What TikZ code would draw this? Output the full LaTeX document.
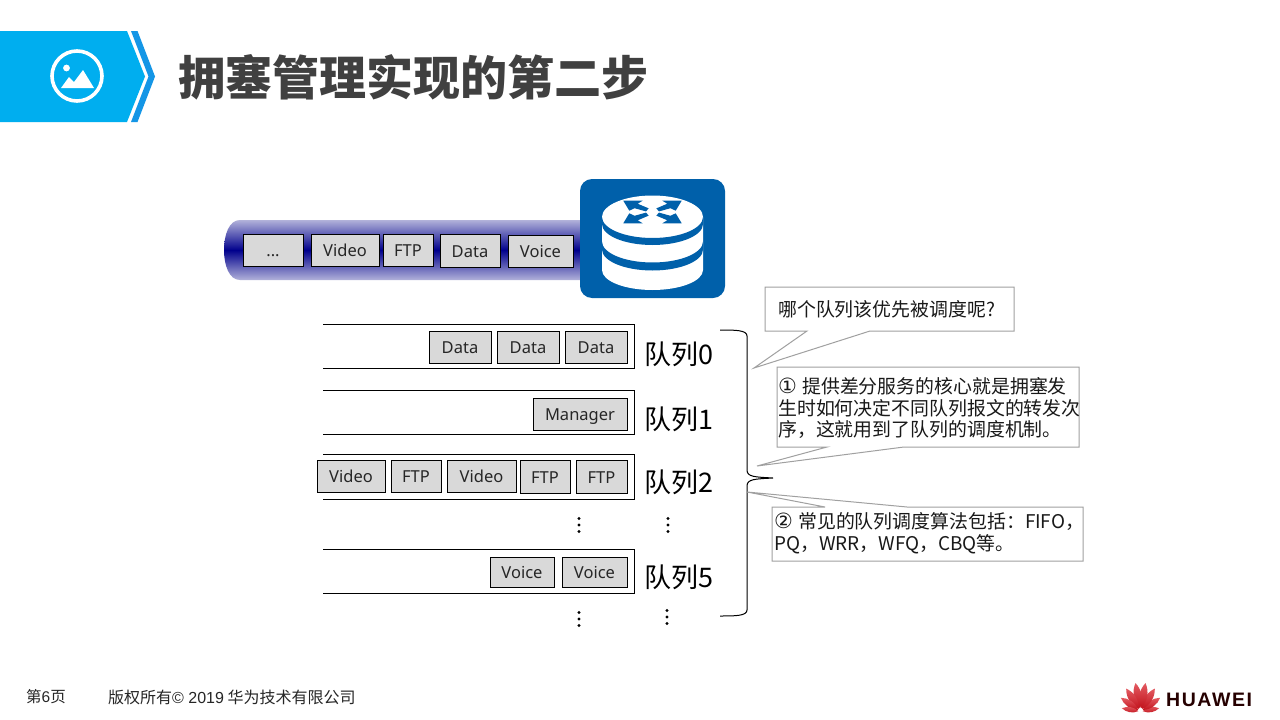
\documentclass[tikz,border=0pt]{standalone}
\usepackage{fontspec}
\setmainfont{Noto Sans}
\newfontfamily\cjk{Noto Sans CJK SC}
\newfontfamily\hw{Liberation Sans}[LetterSpace=8]
\newfontfamily\arialf{Liberation Sans}
\newfontfamily\symf{DejaVu Sans}
\newcommand{\fwcomma}{^^^^ff0c}
\newcommand{\fwcolon}{^^^^ff1a}
\definecolor{hdrblue}{RGB}{0,174,239}
\definecolor{chevblue}{RGB}{20,150,230}
\definecolor{routerblue}{RGB}{0,96,170}
\definecolor{pktgray}{RGB}{217,217,217}
\definecolor{calloutline}{RGB}{160,160,160}
\definecolor{titlegray}{RGB}{64,64,64}
\definecolor{tubedark}{RGB}{0,0,140}
\definecolor{tubelight}{RGB}{178,178,218}
\definecolor{hwred}{RGB}{215,20,30}
\tikzset{
  x=1pt,y=-1pt,
  pkt/.style={draw=black,line width=1pt,fill=pktgray,inner sep=0pt,font=\fontsize{16.5}{20}\selectfont,text=black!85,text height=15pt,text depth=2pt},
  qline/.style={draw=black,line width=1pt},
  qlabel/.style={anchor=west,inner sep=0pt,font=\fontsize{27}{30}\selectfont\cjk},
  dots/.style={fill=black,circle,inner sep=0pt,minimum size=3.2pt},
  callout/.style={draw=calloutline,line width=1pt,fill=white},
  ctext/.style={anchor=west,inner sep=0pt,text=black!90,font=\fontsize{18.9}{22}\selectfont\cjk},
  foot/.style={anchor=west,inner sep=0pt,text=black!85,font=\fontsize{16}{18}\selectfont\cjk},
  arrowpiece/.pic={\fill[routerblue] (-29.2,-11.3)--(-9.8,-11.3)--(-14.8,-8.3)--(-3.8,-3.6)--(-6.5,-0.6)--(-18,-3.8)--(-23.2,-1.3)--cycle;},
  petal/.pic={\shade[top color=hwred!70!white,bottom color=hwred!90!black] (0,-3) .. controls (-5.2,-11) and (-4.6,-20) .. (0,-27) .. controls (4.6,-20) and (5.2,-11) .. (0,-3) -- cycle;}
}
\newcommand{\pkt}[6]{%
  \pgfmathsetmacro{\cxx}{(#2+#3)/2}\pgfmathsetmacro{\cyy}{(#4+#5)/2}%
  \pgfmathsetmacro{\ww}{#3-#2}\pgfmathsetmacro{\hh}{#5-#4}%
  \node[pkt,minimum width=\ww pt,minimum height=\hh pt] (#1) at (\cxx,\cyy) {#6};}
\newcommand{\qbox}[3]{\draw[qline] (323,#2) -- (#1,#2) -- (#1,#3) -- (323,#3);}
\begin{document}
\begin{tikzpicture}
\useasboundingbox (0,0) rectangle (1280,720);
\fill[white] (0,0) rectangle (1280,720);
% header
\fill[hdrblue] (0,31) -- (127,31) -- (145,76.5) -- (127,122) -- (0,122) -- cycle;
\fill[chevblue] (131,31) -- (137.5,31) -- (155,76.5) -- (137.5,122) -- (131,122) -- (148.5,76.5) -- cycle;
\draw[white,line width=3.6pt] (77,76) circle (25);
\fill[white] (66.5,68) circle (3.4);
\fill[white] (61,88) -- (69,77) -- (74,82) -- (83,70) -- (94,88) -- cycle;
\node[anchor=west,inner sep=0pt,text=titlegray,font=\fontsize{47}{50}\selectfont\cjk\bfseries] (title) at (178,77) {拥塞管理实现的第二步};
% tube
\begin{scope}
\clip (590,220) -- (240,220) .. controls (229,220) and (224,235) .. (224,250) .. controls (224,265) and (229,280) .. (240,280) -- (590,280) -- cycle;
\shade[top color=tubelight,bottom color=tubedark] (220,220) rectangle (590,250.2);
\shade[bottom color=tubelight,top color=tubedark] (220,250) rectangle (590,280);
\end{scope}
% router
\fill[routerblue,rounded corners=12pt] (580,179) rectangle (725,298);
\fill[white] (602,217) arc[start angle=180,end angle=0,x radius=50.5pt,y radius=21.5pt] -- (703,270) arc[start angle=0,end angle=-180,x radius=50.5pt,y radius=20pt] -- cycle;
\fill[routerblue] (602,217) arc[start angle=180,end angle=360,x radius=50.5pt,y radius=21pt] -- (703,224) arc[start angle=360,end angle=180,x radius=50.5pt,y radius=21pt] -- cycle;
\fill[routerblue] (602,241.5) arc[start angle=180,end angle=360,x radius=50.5pt,y radius=21pt] -- (703,249.5) arc[start angle=360,end angle=180,x radius=50.5pt,y radius=21pt] -- cycle;
\pic at (652.5,212) {arrowpiece};
\pic[xscale=-1] at (652.5,212) {arrowpiece};
\pic[yscale=-1] at (652.5,212) {arrowpiece};
\pic[xscale=-1,yscale=-1] at (652.5,212) {arrowpiece};
% tube packets
\pkt{t0}{243}{303}{234}{266}{...}
\pkt{t1}{311}{379}{234}{266}{Video}
\pkt{t2}{383}{433}{234}{266}{FTP}
\pkt{t3}{440}{500}{234}{267}{Data}
\pkt{t4}{508}{573}{235}{267}{Voice}
% queues
\qbox{634}{324}{368}
\qbox{634.5}{390}{434}
\qbox{634.5}{454}{499}
\qbox{634.5}{549}{593}
\pkt{q0a}{429}{491}{331}{363}{Data}
\pkt{q0b}{497}{559}{331}{363}{Data}
\pkt{q0c}{565}{627}{331}{363}{Data}
\pkt{q1a}{533}{627}{398}{430}{Manager}
\pkt{q2a}{317}{385}{460}{492}{Video}
\pkt{q2b}{391}{441}{460}{492}{FTP}
\pkt{q2c}{447}{516}{460}{492}{Video}
\pkt{q2d}{520}{570}{460}{493}{FTP}
\pkt{q2e}{576}{627}{460}{493}{FTP}
\pkt{q5a}{490}{554}{557}{587}{Voice}
\pkt{q5b}{562}{627}{557}{587}{Voice}
\node[qlabel] (l0) at (644,354) {队列0};
\node[qlabel] (l1) at (644,419) {队列1};
\node[qlabel] (l2) at (644,482) {队列2};
\node[qlabel] (l5) at (644,577) {队列5};
\foreach \x/\y in {579/525,668/525,579/619,667/617}{
  \node[dots] at (\x,\y-6.5) {};
  \node[dots] at (\x,\y) {};
  \node[dots] at (\x,\y+6.5) {};
}
% brace
\draw[black,line width=1pt] (720,330) .. controls (735,330) and (747,330) .. (747,336) -- (747,470) .. controls (747,477) and (755,477) .. (773,478) .. controls (755,479) and (747,479) .. (747,486) -- (747,610) .. controls (747,616) and (735,616) .. (720,616);
% callouts
\draw[callout] (765,287) -- (1014,287) -- (1014,331) -- (870,331) -- (754,368) -- (807,331) -- (765,331) -- cycle;
\draw[callout] (777,367) -- (1079,367) -- (1079,447) -- (904,447) -- (757,466) -- (827,447) -- (777,447) -- cycle;
\draw[callout] (772,507) -- (825,507) -- (747,492) -- (907,507) -- (1083,507) -- (1083,561) -- (772,561) -- cycle;
\node[ctext] (c1) at (778,309) {哪个队列该优先被调度呢?};
\node[ctext] (c2a) at (778,386) {\makebox[24pt][l]{\symf\fontsize{21}{22}\selectfont ①}提供差分服务的核心就是拥塞发};
\node[ctext] (c2b) at (778,408) {生时如何决定不同队列报文的转发次};
\node[ctext] (c2c) at (778,430) {序\fwcomma{}这就用到了队列的调度机制。};
\node[ctext] (c3a) at (774,522) {\makebox[24pt][l]{\symf\fontsize{21}{22}\selectfont ②}常见的队列调度算法包括\fwcolon{}FIFO\fwcomma};
\node[ctext] (c3b) at (774,544) {PQ\fwcomma{}WRR\fwcomma{}WFQ\fwcomma{}CBQ等。};
% footer
\node[foot] (page) at (26,697) {\fontsize{15.5}{18}\selectfont 第{\arialf 6}页};
\node[foot] (copy) at (108,697) {版权所有{\arialf © 2019} 华为技术有限公司};
% logo
\foreach \a/\s in {-80/0.7,-55/0.89,-32/1.0,-10/1.07,10/1.07,32/1.0,55/0.89,80/0.7}{
  \pic[rotate=\a,scale=\s] at (1140.5,711.5) {petal};
}
\node[anchor=west,inner sep=0pt,text=black!85!red,font=\fontsize{19.5}{24}\selectfont\hw\bfseries] (brand) at (1166,700) {HUAWEI};
\end{tikzpicture}
\end{document}
